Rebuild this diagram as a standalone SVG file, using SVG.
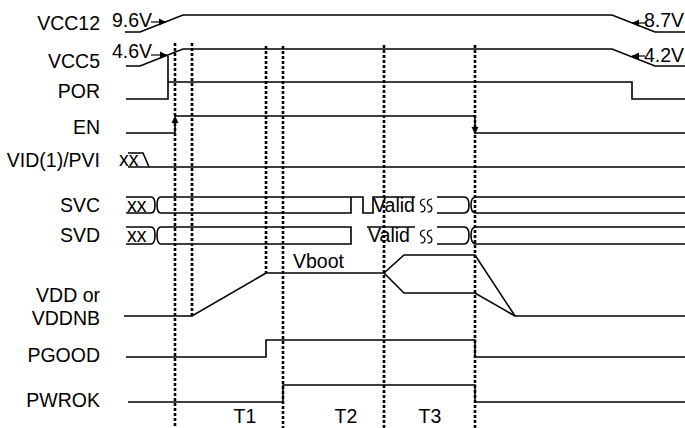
<svg xmlns="http://www.w3.org/2000/svg" width="685" height="428" viewBox="0 0 685 428">
<defs>
<style>
text{font-family:"Liberation Sans",Arial,sans-serif;font-size:19.5px;fill:#000}
.lbl{text-anchor:end}
.sig{fill:none;stroke:#000;stroke-width:1.6;stroke-linejoin:miter}
.thin{fill:none;stroke:#000;stroke-width:1.2}
.dash{fill:none;stroke:#000;stroke-width:2.6;stroke-dasharray:3,2}
</style>
<marker id="ah" markerWidth="8" markerHeight="8" refX="7" refY="4" orient="auto" markerUnits="userSpaceOnUse">
<path d="M0,0.5 L7,4 L0,7.5 Z" fill="#000"/>
</marker>
</defs>
<rect width="685" height="428" fill="#fff"/>

<g id="vcc12">
<text class="lbl" x="100" y="30">VCC12</text>
<path class="sig" d="M125,32 H140 L183,15 H612 L655,32 H685"/>
<text x="112" y="27">9.6V</text>
<line class="thin" x1="151" y1="22" x2="166" y2="22" marker-end="url(#ah)"/>
<text x="684" y="27" text-anchor="end">8.7V</text>
<line class="thin" x1="645" y1="23" x2="632" y2="23" marker-end="url(#ah)"/>
</g>

<g id="vcc5">
<text class="lbl" x="100" y="68">VCC5</text>
<path class="sig" d="M126,66 H140 L183,49 H612 L655,66 H685"/>
<text x="112" y="58">4.6V</text>
<line class="thin" x1="151" y1="55" x2="167" y2="55" marker-end="url(#ah)"/>
<text x="684" y="62" text-anchor="end">4.2V</text>
<line class="thin" x1="645" y1="56" x2="632" y2="56" marker-end="url(#ah)"/>
</g>

<g id="por">
<text class="lbl" x="100" y="98">POR</text>
<path class="sig" d="M126,99 H168 V56"/>
<path class="sig" d="M168,82 H632 V99 H685"/>
</g>

<g id="en">
<text class="lbl" x="100" y="134">EN</text>
<path class="sig" d="M126,133 H175 V118"/>
<line class="thin" x1="175" y1="126" x2="175" y2="116" marker-end="url(#ah)"/>
<path class="sig" d="M175,116 H475 V131"/>
<line class="thin" x1="475" y1="124" x2="475" y2="134" marker-end="url(#ah)"/>
<path class="sig" d="M475,133 H685"/>
</g>

<g id="vid">
<text class="lbl" x="100" y="167">VID(1)/PVI</text>
<text x="119" y="166">xx</text>
<path class="sig" d="M128,153 H143 L149,167"/>
<path class="sig" d="M128,167 H685"/>
</g>

<g id="svc">
<text class="lbl" x="100" y="212">SVC</text>
<text x="127" y="212">xx</text>
<path class="sig" d="M126,197 H151 Q155,197 155,205 Q155,213 151,213 H126"/>
<path class="sig" d="M351,197 H161 Q157,197 157,205 Q157,213 161,213 H351 V197 H363 V213 H373 V197 H415"/>
<text x="373" y="212">Valid</text>
<path class="thin" d="M425,199 C420,199 419,204 422.5,205.5 C426,207 426,212 420.5,212 M432,199 C427,199 426,204 429.5,205.5 C433,207 433,212 427.5,212"/>
<path class="sig" d="M437,197 H464 Q469,197 469,205 Q469,213 464,213 H437"/>
<path class="sig" d="M685,197 H476 Q471,197 471,205 Q471,213 476,213 H685"/>
</g>

<g id="svd">
<text class="lbl" x="100" y="242">SVD</text>
<text x="127" y="242">xx</text>
<path class="sig" d="M126,227 H151 Q155,227 155,235 Q155,244 151,244 H126"/>
<path class="sig" d="M351,227 H161 Q157,227 157,235 Q157,244 161,244 H351 Z"/>
<path class="sig" d="M367,227 H415"/>
<text x="368" y="242">Valid</text>
<path class="thin" d="M425,230 C420,230 419,235 422.5,236.5 C426,238 426,243 420.5,243 M432,230 C427,230 426,235 429.5,236.5 C433,238 433,243 427.5,243"/>
<path class="sig" d="M437,227 H464 Q469,227 469,235 Q469,244 464,244 H437"/>
<path class="sig" d="M685,227 H476 Q471,227 471,235 Q471,244 476,244 H685"/>
</g>

<g id="vdd">
<text class="lbl" x="100" y="302">VDD or</text>
<text class="lbl" x="100" y="325">VDDNB</text>
<path class="sig" d="M124,316 H192 L266,273 H384 L404,255 H475 L515,316 H685"/>
<path class="sig" d="M384,273 L404,293 H475 L515,316"/>
<text x="293" y="268">Vboot</text>
</g>

<g id="pgood">
<text class="lbl" x="100" y="362">PGOOD</text>
<path class="sig" d="M126,357 H266 V340 H475 V357 H685"/>
</g>

<g id="pwrok">
<text class="lbl" x="100" y="407">PWROK</text>
<path class="sig" d="M128,402 H283 V385 H475 V402 H685"/>
</g>

<g id="connectors">
<line class="dash" x1="175" y1="43" x2="175" y2="428"/>
<line class="dash" x1="192" y1="43" x2="192" y2="316"/>
<line class="dash" x1="266" y1="46" x2="266" y2="273"/>
<line class="dash" x1="283" y1="46" x2="283" y2="428"/>
<line class="dash" x1="384" y1="45" x2="384" y2="428"/>
<line class="dash" x1="475" y1="45" x2="475" y2="428"/>
</g>

<g id="periods">
<text x="245" y="423" text-anchor="middle">T1</text>
<text x="346" y="423" text-anchor="middle">T2</text>
<text x="430" y="423" text-anchor="middle">T3</text>
</g>
</svg>
